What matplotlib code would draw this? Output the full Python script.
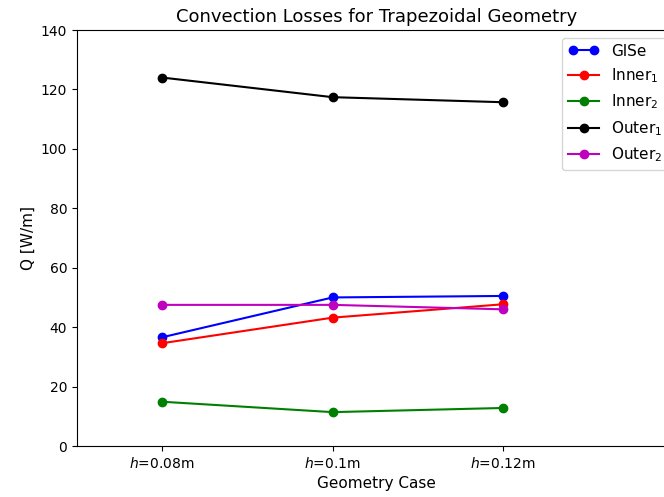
import matplotlib
matplotlib.use("Agg")
import matplotlib.pyplot as plt
from matplotlib.legend_handler import HandlerLine2D

# Geometry cases and convection losses [W/m]
cases = ["$h$=0.08m", "$h$=0.1m", "$h$=0.12m"]
glse = [36.6, 50.0, 50.5]
inner1 = [34.6, 43.2, 47.7]
inner2 = [14.9, 11.4, 12.8]
outer1 = [124.0, 117.4, 115.7]
outer2 = [47.5, 47.5, 46.0]

x = list(range(1, len(cases) + 1))

fig = plt.figure(figsize=(6.64, 4.97), dpi=100)
# axes run past the right edge of the figure, as in the original crop
ax = fig.add_axes([0.116, 0.1026, 0.902, 0.837])

l_glse, = ax.plot(x, glse, "b-o", label="GlSe")
ax.plot(x, inner1, "r-o", label="Inner$_1$")
ax.plot(x, inner2, "g-o", label="Inner$_2$")
ax.plot(x, outer1, "k-o", label="Outer$_1$")
ax.plot(x, outer2, "m-o", label="Outer$_2$")

ax.set_xlim(0.5, 4.015)
ax.set_ylim(0, 140)
ax.set_xticks(x)
ax.set_xticklabels(cases)
ax.set_xlabel("Geometry Case", fontsize=11)
ax.set_ylabel("Q [W/m]", fontsize=11)
ax.set_title("Convection Losses for Trapezoidal Geometry", fontsize=13)
ax.spines["right"].set_visible(False)  # cut off in the original

ax.legend(loc="upper right", numpoints=1, fontsize=11,
          handler_map={l_glse: HandlerLine2D(numpoints=2)})

fig.savefig("out.png", dpi=100)
